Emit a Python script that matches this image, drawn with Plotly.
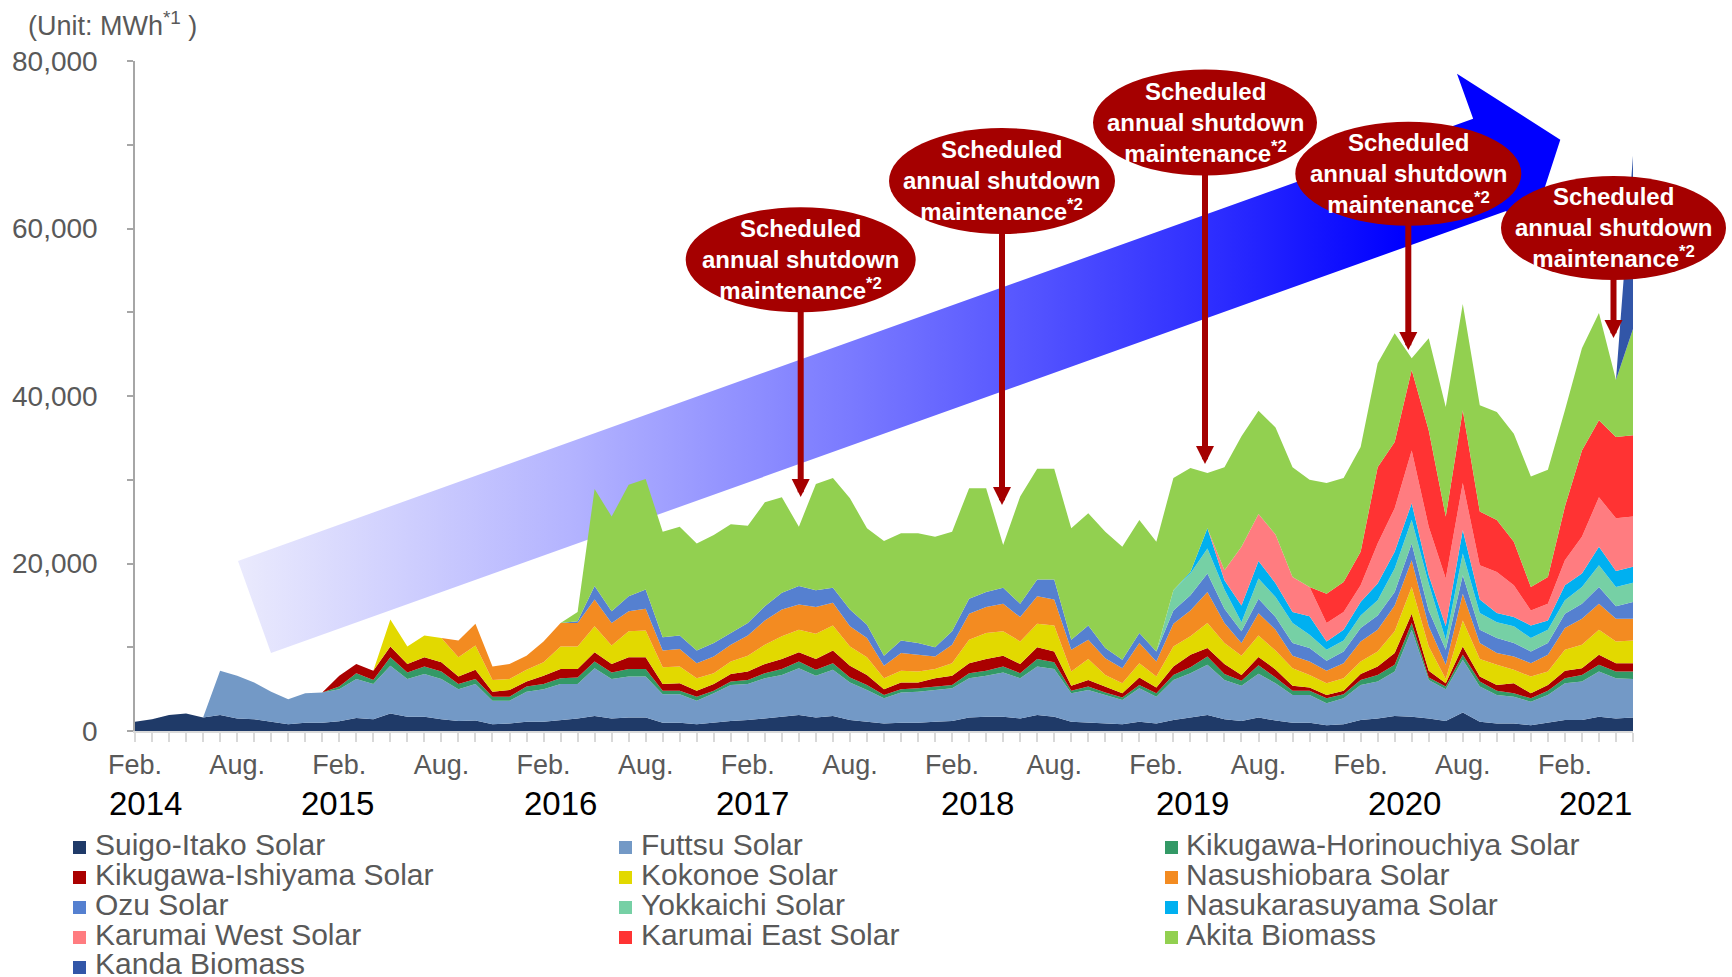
import pandas as pd
import plotly.graph_objects as go

# monthly generation (MWh), Feb 2014 - Jun 2021
months = pd.date_range('2014-02-01', periods=89, freq='MS')

suigo_itako = [1100, 1400, 1900, 2100, 1600, 1900, 1500, 1400, 1100, 800, 1000, 1000, 1150, 1550, 1400, 2100,
               1700, 1700, 1400, 1200, 1250, 800, 900, 1100, 1100, 1300, 1500, 1800, 1500, 1600, 1600, 1000,
               1000, 800, 1000, 1200, 1300, 1500, 1700, 1900, 1600, 1800, 1300, 1100, 900, 1000, 1000, 1100,
               1200, 1600, 1700, 1700, 1500, 1900, 1700, 1100, 1000, 900, 800, 1100, 900, 1300, 1600, 1900,
               1400, 1200, 1600, 1250, 1000, 1000, 700, 800, 1300, 1500, 1800, 1700, 1500, 1200, 2200, 1100,
               900, 900, 700, 1000, 1300, 1300, 1700, 1500, 1600]
futtsu = [0, 0, 0, 0, 0, 5300, 5100, 4400, 3600, 3000, 3500, 3600, 3850, 4650, 4200, 5700,
          4500, 5100, 4800, 3800, 4350, 2800, 2700, 3600, 3900, 4300, 4100, 5700, 4700, 4900, 4900, 3400,
          3400, 2800, 3500, 4300, 4300, 4800, 5000, 5600, 5000, 5500, 4500, 3800, 3000, 3600, 3700, 3800,
          3900, 4700, 4900, 5300, 4800, 5800, 5700, 3400, 3900, 3400, 2900, 4000, 3200, 4800, 5300, 6000,
          4700, 4200, 5250, 4450, 3300, 3300, 2600, 3100, 4200, 4400, 5300, 10400, 4600, 3800, 6300, 4200,
          3400, 3200, 2800, 3300, 4400, 4600, 5400, 4800, 4600]
horinouchiya = [0, 0, 0, 0, 0, 0, 0, 0, 0, 0, 0, 0, 300, 700, 500, 1000,
                800, 900, 900, 600, 600, 500, 500, 600, 600, 700, 800, 800, 800, 900, 900, 400,
                400, 500, 300, 400, 500, 600, 700, 800, 700, 800, 600, 600, 400, 400, 400, 400,
                400, 600, 600, 700, 600, 900, 800, 300, 400, 300, 300, 400, 400, 600, 700, 1000,
                700, 600, 1000, 700, 500, 500, 600, 500, 600, 800, 800, 800, 300, 300, 600, 600,
                500, 400, 400, 500, 600, 800, 800, 800, 900]
ishiyama = [0, 0, 0, 0, 0, 0, 0, 0, 0, 0, 0, 0, 1300, 1100, 1100, 1300,
            1000, 1100, 1100, 900, 1100, 600, 800, 600, 1000, 1100, 1000, 1100, 1000, 1400, 1400, 800,
            900, 700, 800, 900, 1000, 1100, 1200, 1100, 1300, 1500, 1400, 1200, 700, 800, 700, 1000,
            1100, 1200, 1400, 1300, 1100, 1400, 1300, 600, 800, 700, 500, 900, 700, 1000, 1500, 1000,
            1200, 700, 1000, 950, 600, 400, 400, 400, 700, 1000, 1400, 1100, 800, 400, 1000, 600,
            700, 1200, 600, 700, 900, 800, 1200, 1000, 1000]
kokonoe = [0, 0, 0, 0, 0, 0, 0, 0, 0, 0, 0, 0, 0, 0, 0, 3200,
           2100, 2600, 2900, 2300, 2900, 1400, 1300, 1400, 1600, 2700, 2700, 3100, 2200, 3100, 3200, 2000,
           2000, 1500, 1300, 1500, 1900, 2300, 2700, 2700, 3000, 3000, 2300, 2100, 1300, 1400, 1300, 1100,
           1500, 2800, 3100, 2900, 2700, 2800, 3100, 1700, 2500, 1400, 1200, 1700, 1300, 2400, 2200, 3000,
           2500, 2300, 2550, 2250, 2100, 1500, 1400, 1500, 1500, 1800, 2600, 3200, 2900, 500, 3100, 2100,
           2400, 1600, 2000, 1600, 2500, 2800, 3000, 2600, 2700]
nasushiobara = [0, 0, 0, 0, 0, 0, 0, 0, 0, 0, 0, 0, 0, 0, 0, 0,
                0, 0, 0, 2000, 2600, 1600, 1800, 1700, 2500, 2800, 2800, 3200, 2700, 2400, 2600, 2000,
                2100, 1800, 2000, 2000, 2400, 2900, 3200, 3000, 3200, 2700, 2400, 2300, 1500, 2100, 2000, 1500,
                2200, 3100, 3100, 3300, 2900, 3300, 3100, 2600, 2300, 2000, 1800, 2400, 1800, 2700, 3100, 3700,
                2400, 1500, 2650, 2500, 1500, 1600, 1500, 1800, 2400, 2600, 3100, 3200, 2400, 1700, 3200, 1900,
                1400, 1600, 1600, 2000, 2600, 3100, 3100, 2700, 2600]
ozu = [0, 0, 0, 0, 0, 0, 0, 0, 0, 0, 0, 0, 0, 0, 0, 0,
       0, 0, 0, 0, 0, 0, 0, 0, 0, 0, 200, 1600, 1400, 1800, 2300, 1600,
       1600, 1500, 1600, 1400, 1500, 1700, 2000, 2200, 2000, 1800, 2000, 1600, 1200, 1500, 1400, 1100,
       1600, 1800, 1800, 1900, 1600, 2000, 2400, 1200, 1700, 1200, 1000, 1200, 1200, 1600, 1800, 2200,
       1700, 1400, 1750, 1500, 1500, 1600, 1200, 1400, 1600, 1700, 1600, 2000, 1900, 1800, 2200, 1600,
       1800, 1600, 1400, 1400, 1700, 1800, 2000, 1500, 2000]
yokkaichi = [0] * 61 + [2400, 2600, 3000,
             2300, 1100, 2400, 2400, 2400, 1600, 1300, 1300, 1500, 1800, 2800, 2800, 3200, 1200, 2600, 2000,
             1900, 2000, 1600, 1600, 1600, 2000, 2600, 2300, 2300]
nasukarasuyama = [0] * 62 + [200, 2400,
                  1100, 2000, 2100, 1650, 1300, 2200, 1000, 1300, 1600, 2000, 2000, 2000, 1000, 1600, 2800, 1600,
                  1100, 1100, 1500, 1100, 1800, 1600, 2200, 1900, 1900]
karumai_west = [0] * 64 + [
                1200, 7000, 5600, 5800, 4200, 3500, 2200, 2100, 2000, 4800, 5200, 6300, 5800, 5700, 5600, 4100,
                4900, 3800, 1800, 2000, 3000, 4400, 5900, 6300, 6000]
karumai_east = [0] * 70 + [3500, 3600, 4000, 9100, 7900, 9600, 11500, 7400, 8700, 6400,
                6200, 5200, 2800, 3200, 6400, 10300, 9200, 9700, 9700]
akita = [0, 0, 0, 0, 0, 0, 0, 0, 0, 0, 0, 0, 0, 0, 0, 0,
         0, 0, 0, 0, 0, 0, 0, 0, 0, 0, 1100, 11600, 11300, 13300, 13200, 12600,
         13000, 12800, 12900, 13000, 11600, 12400, 11400, 7100, 12700, 13100, 13300, 11500, 13700, 12800, 13100, 13200,
         11900, 13200, 12400, 5100, 12800, 13200, 13200, 13300, 13400, 13900, 13500, 13500, 13100, 13400, 12400, 6600,
         12300, 13200, 12350, 12800, 13100, 12800, 13200, 12400, 12500, 12400, 13000, 1400, 11000, 13100, 12700, 12700,
         12900, 12900, 13200, 12800, 11500, 12200, 12800, 6800, 12700]
kanda = [0] * 88 + [20700]

names = ['Suigo-Itako Solar', 'Futtsu Solar', 'Kikugawa-Horinouchiya Solar',
         'Kikugawa-Ishiyama Solar', 'Kokonoe Solar', 'Nasushiobara Solar',
         'Ozu Solar', 'Yokkaichi Solar', 'Nasukarasuyama Solar',
         'Karumai West Solar', 'Karumai East Solar', 'Akita Biomass', 'Kanda Biomass']
series = [suigo_itako, futtsu, horinouchiya, ishiyama, kokonoe, nasushiobara, ozu,
          yokkaichi, nasukarasuyama, karumai_west, karumai_east, akita, kanda]
colors = ['#1F3A68', '#7399C6', '#339966', '#AA0000', '#E2D900', '#F38B21', '#5580D0',
          '#76D0A5', '#00B0F0', '#FF7C80', '#FF3333', '#92D050', '#3256A8']

year_labels = ['2014', '2015', '2016', '2017', '2018', '2019', '2020', '2021']
year_pos = [0.6, 11.9, 25.0, 36.3, 49.5, 62.1, 74.6, 85.8]  # month index where the year label sits

FONT = 'Arial, Liberation Sans, sans-serif'
RED = '#A50000'

# plot area in pixels: x 135..1633, y 61..731
def px(x):
    return (x - 135) / 1498

def py(y):
    return (731 - y) / 670

idx = list(range(len(months)))
tick_text = ['Feb.' if m.month == 2 else 'Aug.' if m.month == 8 else '' for m in months]

fig = go.Figure()

# big gradient "growth" arrow behind the areas
arrow_x = [6.05, 78.61, 77.66, 83.73, 81.50, 80.55, 7.99, 6.05]
arrow_y = [20310, 73100, 78490, 70610, 56690, 62090, 9300, 20310]
fig.add_trace(go.Scatter(x=arrow_x, y=arrow_y, fill='toself', mode='lines', line=dict(width=0),
                         fillgradient=dict(type='horizontal',
                                           colorscale=[[0.0, '#EAEAFD'], [0.25, '#B4B4FF'], [0.5, '#7070FF'],
                                                       [0.75, '#2A2AFF'], [0.88, '#0000FF'], [1.0, '#0000FF']]),
                         showlegend=False, hoverinfo='skip'))

for name, vals, col in zip(names, series, colors):
    fig.add_trace(go.Scatter(x=idx, y=vals, name=name, stackgroup='gen', mode='lines',
                             line=dict(width=0, color=col), fillcolor=col, showlegend=False))

shapes = []
annotations = []

# call-out ellipses (pixel geometry) and their arrows
ellipses = [(800.7, 259.8, 115, 52.5), (1002, 181, 113, 53), (1205, 122.6, 112, 53),
            (1408.3, 173.7, 113, 52), (1613.5, 228, 112.5, 52)]
arrow_tips = [497, 505, 464, 350, 338]
for (cx, cy, rx, ry), tip in zip(ellipses, arrow_tips):
    annotations.append(dict(x=px(cx), y=py(tip), xref='paper', yref='paper', text='',
                            showarrow=True, ax=0, ay=-(tip - cy - ry + 4), arrowhead=2, arrowsize=0.6,
                            arrowwidth=6, arrowcolor=RED))
for (cx, cy, rx, ry) in ellipses:
    shapes.append(dict(type='circle', xref='paper', yref='paper', x0=px(cx - rx), x1=px(cx + rx),
                       y0=py(cy + ry), y1=py(cy - ry), fillcolor=RED, line=dict(width=0), layer='above'))
    annotations.append(dict(x=px(cx), y=py(cy), xref='paper', yref='paper', showarrow=False,
                            xanchor='center', yanchor='middle',
                            text='<b>Scheduled<br>annual shutdown<br>maintenance<sup>*2</sup></b>',
                            font=dict(family=FONT, size=24, color='white'), align='center'))

# year labels under the month ticks
for yl, xp in zip(year_labels, year_pos):
    annotations.append(dict(x=xp, y=py(803), xref='x', yref='paper', text=yl, showarrow=False,
                            xanchor='center', yanchor='middle',
                            font=dict(family=FONT, size=33, color='black')))

annotations.append(dict(x=px(26), y=py(24), xref='paper', yref='paper', xanchor='left', yanchor='middle',
                        showarrow=False, text='(Unit: MWh<sup>*1</sup> )',
                        font=dict(family=FONT, size=27, color='#595959')))

# legend, 3 columns
col_mark = [73, 619, 1165]
col_text = [93, 639, 1184]
for k, (name, col) in enumerate(zip(names, colors)):
    c, r = k % 3, k // 3
    yc = 847 + 30 * r
    shapes.append(dict(type='rect', xref='paper', yref='paper', x0=px(col_mark[c]), x1=px(col_mark[c] + 13),
                       y0=py(yc + 7), y1=py(yc - 6), fillcolor=col, line=dict(width=0)))
    annotations.append(dict(x=px(col_text[c]), y=py(yc - 3), xref='paper', yref='paper', xanchor='left',
                            yanchor='middle', showarrow=False, text=name,
                            font=dict(family=FONT, size=30, color='#595959')))

fig.update_layout(
    width=1732, height=977,
    margin=dict(l=135, r=99, t=61, b=246),
    plot_bgcolor='white', paper_bgcolor='white',
    showlegend=False,
    font=dict(family=FONT),
    shapes=shapes, annotations=annotations,
    xaxis=dict(range=[0, 88], tickmode='array', tickvals=idx, ticktext=tick_text,
               ticks='outside', ticklen=9, tickwidth=1.5, tickcolor='#D9D9D9',
               showline=True, linecolor='#D9D9D9', linewidth=2, showgrid=False, zeroline=False,
               tickfont=dict(family=FONT, size=27, color='#595959')),
    yaxis=dict(range=[0, 80000], tickmode='array', tickvals=list(range(0, 80001, 10000)),
               ticktext=['0', '', '20,000', '', '40,000', '', '60,000', '', '80,000'],
               ticks='outside', ticklen=6, tickwidth=1.5, tickcolor='#A6A6A6',
               showline=True, linecolor='#A6A6A6', linewidth=1.5, showgrid=False, zeroline=False,
               tickfont=dict(family=FONT, size=28, color='#595959'), ticklabelstandoff=24),
)

fig.write_html('out.html', config={'displayModeBar': False},
               post_script="document.body.style.margin='0';")
